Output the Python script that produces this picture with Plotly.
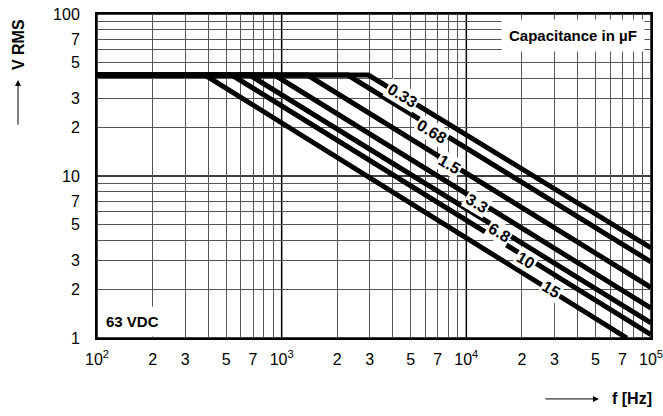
import math
import plotly.graph_objects as go

# ---- data ----
caps = ["0.33", "0.68", "1.5", "3.3", "6.8", "10", "15"]
f_start = 100
v_flat = 42
f_corner = [2950, 2280, 1380, 916, 671, 537, 384]
f_end = [100000, 100000, 100000, 100000, 100000, 100000, 74000]
v_end = [3.6, 2.95, 2.05, 1.53, 1.24, 1.05, 1.0]

label_f = [4510, 6470, 8090, 11460, 15070, 21100, 28800]
label_v = [31.6, 18.7, 11.7, 6.81, 4.45, 3.03, 1.98]

x_tickvals = [100, 200, 300, 500, 700, 1000, 2000, 3000, 5000, 7000,
              10000, 20000, 30000, 50000, 70000, 100000]
x_ticktext = ["10<sup>2</sup>", "2", "3", "5", "7", "10<sup>3</sup>", "2", "3", "5", "7",
              "10<sup>4</sup>", "2", "3", "5", "7", "10<sup>5</sup>"]
y_tickvals = [1, 2, 3, 5, 7, 10, 20, 30, 50, 70, 100]
y_ticktext = ["1", "2", "3", "5", "7", "10", "2", "3", "5", "7", "100"]

x_minor = [m * d for d in (100, 1000, 10000) for m in range(2, 10)]
y_minor = [m * d for d in (1, 10) for m in range(2, 10)]
x_decades = [100, 1000, 10000, 100000]
y_decades = [1, 10, 100]

FONT = "Liberation Sans, Arial, Helvetica, sans-serif"

fig = go.Figure()

for i, c in enumerate(caps):
    fig.add_trace(go.Scatter(
        x=[f_start, f_corner[i], f_end[i]],
        y=[v_flat, v_flat, v_end[i]],
        mode="lines",
        line=dict(color="black", width=5),
        showlegend=False,
        hoverinfo="skip",
    ))

annotations = []
for i, c in enumerate(caps):
    # annotations on log axes are placed in log10 units
    annotations.append(dict(
        x=math.log10(label_f[i]), y=math.log10(label_v[i]), xref="x", yref="y",
        xanchor="center", yanchor="middle",
        text="<b>%s</b>" % c, showarrow=False, textangle=31,
        font=dict(family=FONT, size=16, color="black"),
        bgcolor="white", borderpad=1,
    ))

annotations += [
    dict(xref="paper", yref="paper", x=0.859, y=0.935,
         xanchor="center", yanchor="middle",
         text="<b>Capacitance in µF</b>", showarrow=False,
         font=dict(family=FONT, size=15, color="black"),
         bgcolor="white", borderpad=7),
    dict(xref="paper", yref="paper", x=0.003, y=0.052,
         xanchor="left", yanchor="middle",
         text="<b>63 VDC</b>", showarrow=False,
         font=dict(family=FONT, size=15, color="black"),
         bgcolor="white", borderpad=6),
    # y axis title
    dict(xref="paper", yref="paper", x=0, y=0.904, xshift=-79,
         xanchor="center", yanchor="middle",
         text="<b>V RMS</b>", showarrow=False, textangle=-90,
         font=dict(family=FONT, size=16, color="black")),
    dict(xref="paper", yref="paper", x=0, y=0.796, xshift=-79,
         text="", showarrow=True, ax=0, ay=46,
         arrowhead=2, arrowsize=1.2, arrowwidth=1, arrowcolor="black"),
    # x axis title
    dict(xref="paper", yref="paper", x=0.966, y=-0.188,
         xanchor="center", yanchor="middle",
         text="<b>f [Hz]</b>", showarrow=False,
         font=dict(family=FONT, size=16, color="black")),
    dict(xref="paper", yref="paper", x=0.906, y=-0.188,
         text="", showarrow=True, ax=-55, ay=0,
         arrowhead=2, arrowsize=1.2, arrowwidth=1, arrowcolor="black"),
]

shapes = []
for d in x_decades:
    shapes.append(dict(type="line", xref="x", yref="paper", x0=d, x1=d, y0=0, y1=1,
                       line=dict(color="black", width=1.5), layer="below"))
for d in y_decades:
    shapes.append(dict(type="line", xref="paper", yref="y", x0=0, x1=1, y0=d, y1=d,
                       line=dict(color="black", width=1.5), layer="below"))

fig.update_layout(
    width=663, height=416,
    margin=dict(l=97, r=12, t=14, b=78, autoexpand=False),
    paper_bgcolor="white", plot_bgcolor="white",
    font=dict(family=FONT, size=16, color="black"),
    annotations=annotations,
    shapes=shapes,
)

fig.update_xaxes(
    type="log", range=[2, 5], automargin=False, ticklabeloverflow="allow",
    tickvals=x_tickvals, ticktext=x_ticktext,
    showgrid=False, ticks="", ticklabelstandoff=6,
    minor=dict(tickvals=x_minor, showgrid=True, gridcolor="#555", gridwidth=1, ticks=""),
    showline=True, linecolor="black", linewidth=2, mirror=True, zeroline=False,
    tickfont=dict(family=FONT, size=16, color="black"),
)
fig.update_yaxes(
    type="log", range=[0, 2], automargin=False, ticklabeloverflow="allow",
    tickvals=y_tickvals, ticktext=y_ticktext,
    showgrid=False, ticks="", ticklabelstandoff=12,
    minor=dict(tickvals=y_minor, showgrid=True, gridcolor="#555", gridwidth=1, ticks=""),
    showline=True, linecolor="black", linewidth=2, mirror=True, zeroline=False,
    tickfont=dict(family=FONT, size=16, color="black"),
)

# remove the default 8px page margin so the figure fills the window exactly
fig.write_html("out.html",
               config={"displayModeBar": False},
               post_script="document.body.style.margin='0px';document.body.style.overflow='hidden';")
